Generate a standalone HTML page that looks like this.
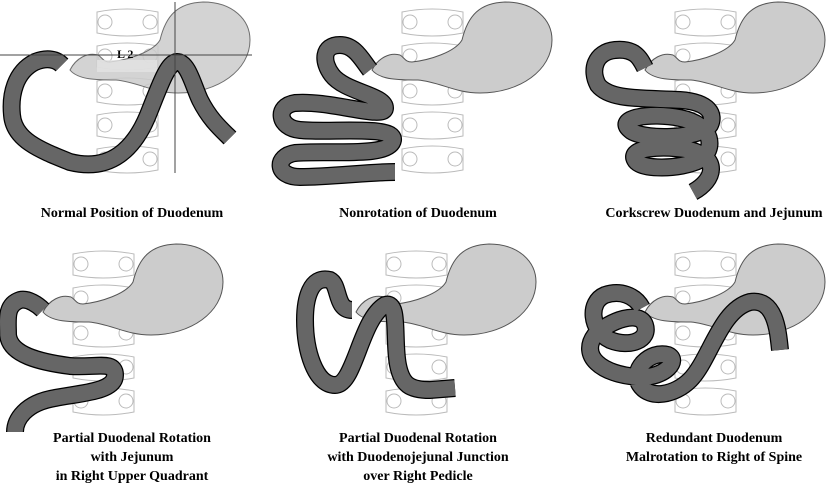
<!DOCTYPE html>
<html><head><meta charset="utf-8"><style>
html,body{margin:0;padding:0;background:#fff;}
svg{display:block;}
</style></head><body>
<svg width="831" height="487" viewBox="0 0 831 487" xmlns="http://www.w3.org/2000/svg">
<defs>
<g id="vert">
<path d="M0,3 Q30,-3 61,3 L61,24 Q30,30 0,24 Z" fill="#fff" stroke="#bbb" stroke-width="1"/>
<circle cx="8" cy="13" r="7" fill="none" stroke="#bbb" stroke-width="1"/>
<circle cx="53" cy="13" r="7" fill="none" stroke="#bbb" stroke-width="1"/>
</g>
<g id="spine">
<use href="#vert" x="402" y="9"/>
<use href="#vert" x="402" y="43"/>
<use href="#vert" x="402" y="78"/>
<use href="#vert" x="402" y="112"/>
<use href="#vert" x="402" y="146"/>
</g>
<path id="stom" d="M372,70 C378,58 390,52 400,55 C405,58 405,62 412,62 C430,60 455,52 462,40 C468,15 480,3 505,2 C535,2 552,20 552,40 C552,70 520,93 480,93 C455,93 440,82 418,80 C400,80 380,80 372,70Z" fill="#cccccc" stroke="#555" stroke-width="1"/>
</defs>

<!-- panel 1 -->
<g transform="translate(-305,0)"><use href="#spine"/></g>
<g transform="translate(-302,0)"><use href="#stom" opacity="0.85"/></g>
<rect x="97" y="60" width="60" height="12" fill="#e4e4e4" opacity="0.8"/>
<text x="117" y="58" font-family="Liberation Serif, serif" font-weight="bold" font-size="12">L 2</text>
<g fill="none">
<path d="M62,65 C55,58 45,58 35,62 C15,72 10,95 12,115 C14,140 40,150 70,162 C110,172 135,150 150,110 C160,85 168,62 177,62 C188,62 193,85 200,100 C210,120 222,130 230,138" stroke="#000" stroke-width="18"/>
<path d="M62,65 C55,58 45,58 35,62 C15,72 10,95 12,115 C14,140 40,150 70,162 C110,172 135,150 150,110 C160,85 168,62 177,62 C188,62 193,85 200,100 C210,120 222,130 230,138" stroke="#666" stroke-width="15.5"/>
</g>
<line x1="0" y1="55" x2="252" y2="55" stroke="#444" stroke-width="1"/>
<line x1="175" y1="2" x2="175" y2="173" stroke="#444" stroke-width="1"/>

<!-- panel 2 -->
<use href="#spine"/>
<use href="#stom"/>
<g fill="none">
<path d="M370,70 C362,60 355,45 340,45 C322,45 322,62 332,75 C345,92 385,95 385,108 C385,120 330,100 295,103 C275,106 278,128 300,130 C330,133 395,125 393,140 C390,158 330,150 295,153 C275,156 275,177 300,177 C330,177 370,172 395,172" stroke="#000" stroke-width="18"/>
<path d="M370,70 C362,60 355,45 340,45 C322,45 322,62 332,75 C345,92 385,95 385,108 C385,120 330,100 295,103 C275,106 278,128 300,130 C330,133 395,125 393,140 C390,158 330,150 295,153 C275,156 275,177 300,177 C330,177 370,172 395,172" stroke="#666" stroke-width="15.5"/>
</g>

<!-- panel 3 -->
<g transform="translate(273,0)"><use href="#spine"/><use href="#stom"/></g>
<g fill="none">
<path d="M645,68 C640,58 635,48 615,50 C595,52 590,70 598,85 C610,100 640,98 680,100 C710,102 715,115 710,125 C700,140 640,140 630,130 C615,118 650,112 680,118 C715,125 715,150 700,160 C680,170 640,170 635,160 C628,148 660,145 690,150 C720,158 715,180 693,192" stroke="#000" stroke-width="18"/>
<path d="M645,68 C640,58 635,48 615,50 C595,52 590,70 598,85 C610,100 640,98 680,100 C710,102 715,115 710,125 C700,140 640,140 630,130 C615,118 650,112 680,118 C715,125 715,150 700,160 C680,170 640,170 635,160 C628,148 660,145 690,150 C720,158 715,180 693,192" stroke="#666" stroke-width="15.5"/>
</g>

<!-- panel 4 -->
<g transform="translate(-329,242)"><use href="#spine"/><use href="#stom"/></g>
<g fill="none">
<path d="M43,310 C38,305 28,298 20,300 C5,305 8,320 8,335 C10,355 40,362 70,366 C95,368 115,360 115,375 C115,392 80,393 55,398 C25,403 15,420 15,432" stroke="#000" stroke-width="18"/>
<path d="M43,310 C38,305 28,298 20,300 C5,305 8,320 8,335 C10,355 40,362 70,366 C95,368 115,360 115,375 C115,392 80,393 55,398 C25,403 15,420 15,432" stroke="#666" stroke-width="15.5"/>
</g>

<!-- panel 5 -->
<g transform="translate(-16,242)"><use href="#spine"/><use href="#stom"/></g>
<g fill="none">
<path d="M352,310 C335,310 340,285 330,280 C310,275 305,300 305,320 C305,350 315,385 335,385 C355,385 360,320 385,305 C400,300 393,340 398,365 C402,385 410,390 430,390 L455,388" stroke="#000" stroke-width="18"/>
<path d="M352,310 C335,310 340,285 330,280 C310,275 305,300 305,320 C305,350 315,385 335,385 C355,385 360,320 385,305 C400,300 393,340 398,365 C402,385 410,390 430,390 L455,388" stroke="#666" stroke-width="15.5"/>
</g>

<!-- panel 6 -->
<g transform="translate(273,242)"><use href="#spine"/><use href="#stom"/></g>
<g fill="none">
<path d="M642,308 C635,295 620,290 605,295 C588,302 590,330 610,340 C630,348 650,340 645,325 C640,310 610,320 595,335 C580,355 600,375 640,377 C665,378 680,360 668,355 C650,350 630,370 640,385 C650,400 675,395 690,380 C710,360 720,310 750,302 C775,298 778,330 780,350" stroke="#000" stroke-width="18"/>
<path d="M642,308 C635,295 620,290 605,295 C588,302 590,330 610,340 C630,348 650,340 645,325 C640,310 610,320 595,335 C580,355 600,375 640,377 C665,378 680,360 668,355 C650,350 630,370 640,385 C650,400 675,395 690,380 C710,360 720,310 750,302 C775,298 778,330 780,350" stroke="#666" stroke-width="15.5"/>
</g>

<!-- labels -->
<g text-anchor="middle" font-family="Liberation Serif, serif" font-weight="bold" font-size="14" fill="#000">
<text x="132" y="217">Normal Position of Duodenum</text>
<text x="418" y="217">Nonrotation of Duodenum</text>
<text x="714" y="217">Corkscrew Duodenum and Jejunum</text>
<text x="132" y="442">Partial Duodenal Rotation</text>
<text x="132" y="461">with Jejunum</text>
<text x="132" y="480">in Right Upper Quadrant</text>
<text x="418" y="442">Partial Duodenal Rotation</text>
<text x="418" y="461">with Duodenojejunal Junction</text>
<text x="418" y="480">over Right Pedicle</text>
<text x="714" y="442">Redundant Duodenum</text>
<text x="714" y="461">Malrotation to Right of Spine</text>
</g>
</svg>
</body></html>
